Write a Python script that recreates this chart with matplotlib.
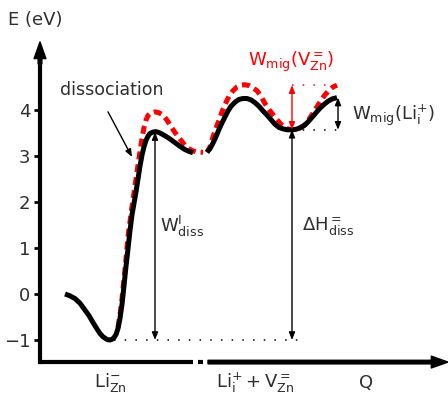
import matplotlib
matplotlib.use("Agg")
import matplotlib.pyplot as plt
import numpy as np

plt.rcParams['font.family'] = ['DejaVu Sans']
plt.rcParams['mathtext.default'] = 'regular'
TXT = '#2e2e2e'
plt.rcParams['text.color'] = TXT
plt.rcParams['ytick.labelcolor'] = TXT

# ---- data (x: reaction coordinate Q in arbitrary units, y: energy in eV) ----
black_left_x = [65, 70, 75, 80, 85, 89, 93, 97, 100, 103, 106, 108, 110, 112, 114, 116, 118, 120, 122, 124, 126, 128,
                130, 132, 134, 136, 138, 140, 142, 144, 146, 148, 150, 153, 156, 160, 165, 170, 175, 180, 185, 189, 193]
black_left_y = [0.0, -0.04, -0.1, -0.2, -0.35, -0.47, -0.62, -0.76, -0.86, -0.93, -0.975, -0.995, -1.0, -0.985,
                -0.95, -0.88, -0.75, -0.53, -0.23, 0.18, 0.6, 0.98, 1.38, 1.72, 1.97, 2.22, 2.5, 2.78, 3.02, 3.2,
                3.34, 3.43, 3.49, 3.52, 3.53, 3.5, 3.44, 3.37, 3.29, 3.21, 3.14, 3.1, 3.07]

red_left_x = [118, 120, 122, 124, 126, 128, 130, 132, 134, 136, 138, 140, 142, 144, 146, 148,
              151, 155, 159, 163, 167, 171, 175, 180, 184, 188, 192, 196, 203]
red_left_y = [-0.72, -0.45, -0.1, 0.34, 0.76, 1.25, 1.58, 1.9, 2.2, 2.5, 2.8, 3.1, 3.38,
              3.62, 3.78, 3.88, 3.94, 3.96, 3.94, 3.89, 3.78, 3.64, 3.51, 3.37, 3.26, 3.17, 3.12, 3.09, 3.08]

black_right_x = [207, 210, 213, 216, 219, 222, 225, 228, 231, 235, 239, 243, 247, 251, 255, 259, 263, 267, 271,
                 275, 279, 283, 287, 292, 296, 300, 304, 308, 312, 316, 320, 324, 328, 332, 337]
black_right_y = [3.08, 3.16, 3.28, 3.42, 3.58, 3.72, 3.85, 3.98, 4.08, 4.17, 4.23, 4.25, 4.25, 4.22, 4.16, 4.08,
                 3.98, 3.89, 3.79, 3.69, 3.62, 3.59, 3.57, 3.57, 3.58, 3.61, 3.66, 3.74, 3.84, 3.94, 4.04, 4.12,
                 4.19, 4.24, 4.27]

red_right_x = [207, 210, 213, 216, 219, 222, 225, 229, 233, 237, 241, 245, 249, 253, 257, 261, 265, 269, 273, 277,
               281, 285, 289, 293, 297, 301, 305, 309, 313, 317, 321, 325, 329, 333, 337]
red_right_y = [3.08, 3.2, 3.42, 3.6, 3.78, 3.96, 4.12, 4.3, 4.42, 4.5, 4.54, 4.55, 4.53, 4.48, 4.42, 4.3, 4.14,
               4.01, 3.9, 3.79, 3.69, 3.62, 3.58, 3.57, 3.58, 3.62, 3.68, 3.8, 3.93, 4.07, 4.21, 4.33, 4.43, 4.5, 4.54]

yticks = [-1, 0, 1, 2, 3, 4]
E_min = -1.0          # Li_Zn^- minimum
E_peak_diss = 3.52    # dissociation barrier top
E_min_mig = 3.57      # Li_i^+ + V_Zn^= minimum
E_top_black = 4.27    # W_mig(Li_i^+) top
E_top_red = 4.54      # W_mig(V_Zn^=) top

x_diss = 155
x_mig = 292
x_end = 338

# ---- figure ----
fig = plt.figure(figsize=(4.48, 4.01), dpi=100)
ax = fig.add_axes([0, 0, 1, 1])
ax.set_xlim(0, 448)
ax.set_ylim((294 - 401) / 46, 294 / 46)
for s in ['top', 'right', 'bottom']:
    ax.spines[s].set_visible(False)
ax.spines['left'].set_position(('data', 40))
ax.spines['left'].set_linewidth(3)
ax.spines['left'].set_bounds(-1.48, 5.2)
ax.set_xticks([])
ax.set_yticks(yticks)
ax.tick_params(axis='y', direction='out', length=4, width=2, labelsize=13, pad=3)
ax.patch.set_visible(False)

# y-axis arrow head
ax.annotate('', xy=(40, 5.48), xytext=(40, 5.0),
            arrowprops=dict(facecolor='black', edgecolor='black', width=2.6, headwidth=8.5, headlength=12, shrink=0))
# x-axis with break
y_ax = -1.48
ax.plot([38.5, 193], [y_ax, y_ax], color='black', lw=3, solid_capstyle='butt')
ax.plot([198, 203], [y_ax, y_ax], color='black', lw=3, solid_capstyle='butt')
ax.annotate('', xy=(448, y_ax), xytext=(208, y_ax),
            arrowprops=dict(facecolor='black', edgecolor='black', width=2.6, headwidth=8.5, headlength=12, shrink=0))

# curves
dash = (0, (1.6, 1.0))
for xs, ys in [(red_left_x, red_left_y), (red_right_x, red_right_y)]:
    ax.plot(xs, ys, color='red', lw=3.6, linestyle=dash, dash_capstyle='butt', dash_joinstyle='round')
for xs, ys in [(black_left_x, black_left_y), (black_right_x, black_right_y)]:
    ax.plot(xs, ys, color='black', lw=3.6, solid_capstyle='butt', solid_joinstyle='round')

dots = (0, (1, 6))
ax.plot([114, 300], [E_min, E_min], color='black', lw=1.1, linestyle=dots)
ax.plot([x_mig, x_end], [E_min_mig, E_min_mig], color='black', lw=1.1, linestyle=dots)
ax.plot([x_mig, 337], [E_top_red, E_top_red], color='red', lw=1.1, linestyle=dots)

arw = dict(arrowstyle='<|-|>,head_length=0.45,head_width=0.18', lw=1, color='black', shrinkA=0, shrinkB=0)
ax.annotate('', xy=(x_diss, E_min), xytext=(x_diss, E_peak_diss), arrowprops=arw)
ax.annotate('', xy=(x_mig, E_min), xytext=(x_mig, E_min_mig), arrowprops=arw)
ax.annotate('', xy=(x_end, E_min_mig), xytext=(x_end, E_top_black), arrowprops=arw)
arw_r = dict(arw, color='red')
ax.annotate('', xy=(x_mig, E_min_mig), xytext=(x_mig, E_top_red), arrowprops=arw_r)

# dissociation pointer
ax.annotate('', xy=(132, 2.98), xytext=(108, 3.96),
            arrowprops=dict(arrowstyle='-|>,head_length=0.45,head_width=0.18', lw=1, color='black',
                            shrinkA=0, shrinkB=0))

fs = 13
ax.text(8, 5.96, 'E (eV)', fontsize=fs, ha='left', va='center')
ax.text(112, 4.43, 'dissociation', fontsize=12.5, ha='center', va='center')
ax.text(160, 1.46, r'$W^{I}_{diss}$', fontsize=fs, ha='left', va='center')
ax.text(302, 1.46, r'$\Delta H^{=}_{diss}$', fontsize=fs, ha='left', va='center')
ax.text(291, 5.04, r'$W_{mig}(V^{=}_{Zn})$', fontsize=fs, ha='center', va='center', color='red')
ax.text(352, 3.89, r'$W_{mig}(Li^{+}_{i})$', fontsize=fs, ha='left', va='center')
ax.text(110, -1.93, r'$Li^{-}_{Zn}$', fontsize=fs, ha='center', va='center')
ax.text(255, -1.93, r'$Li^{+}_{i} + V^{=}_{Zn}$', fontsize=fs, ha='center', va='center')
ax.text(366, -1.93, 'Q', fontsize=fs, ha='center', va='center')

fig.savefig('out.png', dpi=100)
